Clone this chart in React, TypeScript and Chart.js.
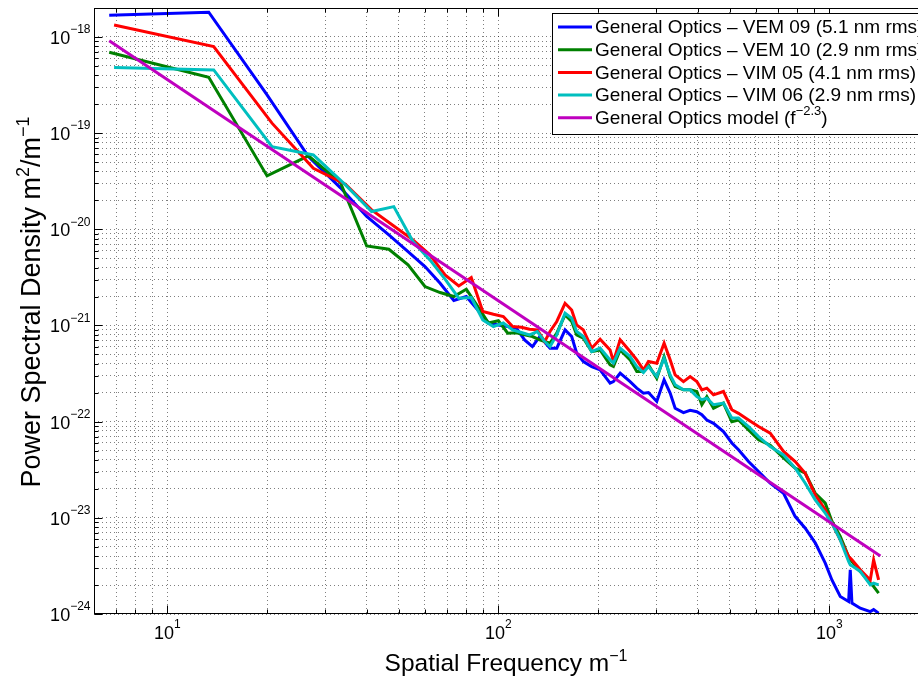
import { useEffect, useRef } from "react";
import { Chart, registerables } from "chart.js";

Chart.register(...registerables);

// ---------- data ----------
// spatial frequencies, m^-1
const FREQ_VEM_LOW = [6.67, 13.33, 20.0, 26.67, 33.33, 40.0, 46.67, 53.33, 60.0, 66.67, 73.33, 80.0, 86.67, 93.33, 100.0, 106.7, 113.3, 120.0, 126.7, 133.3];
const FREQ_VIM_LOW = [6.9, 13.8, 20.7, 27.6, 34.5, 41.4, 48.3, 55.2, 62.1, 69.0, 75.9, 82.8, 89.7, 96.6, 103.5, 110.4, 117.3, 124.2, 131.1, 138.0];
const FREQ_HIGH = [143.2, 150.1, 159.0, 166.5, 172.4, 180.6, 191.4, 202.9, 217.5, 222.6, 233.3, 250.0, 261.9, 274.3, 284.0, 301.0, 316.7, 330.3, 342.0, 362.4, 379.6, 397.7, 411.8, 426.4, 446.7, 478.6, 507.3, 531.5, 569.8, 610.9, 662.6, 727.0, 788.6, 845.5, 906.3, 971.8, 1017.9, 1078.7, 1143.1, 1156.5, 1170.0, 1240.0, 1329.3, 1360.6, 1408.7];

// PSD values, m^2/m^-1
const VEM09_LOW = [1.68e-18, 1.81e-18, 2.5e-19, 5.7e-20, 2.7e-20, 1.36e-20, 8.74e-21, 5.87e-21, 4.1e-21, 2.75e-21, 1.82e-21, 2.0e-21, 1.45e-21, 1.06e-21, 1.01e-21, 9.75e-22, 9.37e-22, 7.08e-22, 6.04e-22, 7.67e-22];
const VEM09_HIGH = [5.81e-22, 5.81e-22, 9.0e-22, 7.67e-22, 5.15e-22, 4.22e-22, 3.74e-22, 3.45e-22, 2.51e-22, 2.61e-22, 3.19e-22, 2.61e-22, 2.23e-22, 1.98e-22, 2.01e-22, 1.62e-22, 2.72e-22, 1.98e-22, 1.38e-22, 1.24e-22, 1.31e-22, 1.27e-22, 1.18e-22, 1.04e-22, 9.6e-23, 7.9e-23, 6.0e-23, 5.1e-23, 3.85e-23, 3.03e-23, 2.29e-23, 1.8e-23, 1.03e-23, 7.8e-24, 5.5e-24, 3.38e-24, 2.26e-24, 1.52e-24, 1.35e-24, 2.88e-24, 1.3e-24, 1.15e-24, 1.06e-24, 1.11e-24, 1.02e-24];

const VEM10_LOW = [6.93e-19, 3.81e-19, 3.59e-20, 5.8e-20, 3.06e-20, 6.71e-21, 6.2e-21, 4.27e-21, 2.54e-21, 2.2e-21, 2.0e-21, 2.38e-21, 1.57e-21, 1.06e-21, 1.12e-21, 8.3e-22, 8.4e-22, 7.98e-22, 7.67e-22, 7.08e-22];
const VEM10_HIGH = [6.55e-22, 8.32e-22, 1.29e-21, 1.1e-21, 7.98e-22, 7.38e-22, 5.36e-22, 5.57e-22, 3.89e-22, 3.74e-22, 5.57e-22, 4.39e-22, 3.32e-22, 3.32e-22, 3.89e-22, 2.83e-22, 4.75e-22, 2.94e-22, 2.32e-22, 2.14e-22, 2.14e-22, 2.06e-22, 1.5e-22, 1.82e-22, 1.38e-22, 1.56e-22, 1.0e-22, 1.04e-22, 8.2e-23, 6.5e-23, 5.7e-23, 4.2e-23, 3.28e-23, 2.91e-23, 1.8e-23, 1.42e-23, 9.2e-24, 6.4e-24, 3.96e-24, 3.66e-24, 3.52e-24, 2.77e-24, 2.09e-24, 1.93e-24, 1.65e-24];

const VIM05_LOW = [1.33e-18, 7.93e-19, 1.27e-19, 4.31e-20, 2.95e-20, 1.59e-20, 1.08e-20, 7.76e-21, 5.42e-21, 3.36e-21, 2.58e-21, 3.15e-21, 1.4e-21, 1.31e-21, 1.24e-21, 9.75e-22, 9.6e-22, 9.15e-22, 9.0e-22, 6.8e-22];
const VIM05_HIGH = [8.65e-22, 1.1e-21, 1.7e-21, 1.45e-21, 1.01e-21, 9.0e-22, 5.81e-22, 7.2e-22, 5.57e-22, 4.22e-22, 7.08e-22, 5.36e-22, 4.39e-22, 3.45e-22, 4.22e-22, 4.05e-22, 6.55e-22, 4.39e-22, 3.06e-22, 2.61e-22, 2.94e-22, 2.61e-22, 2.14e-22, 2.23e-22, 1.9e-22, 2.06e-22, 1.33e-22, 1.22e-22, 1.04e-22, 8.9e-23, 7.6e-23, 4.9e-23, 3.85e-23, 2.91e-23, 1.73e-23, 1.21e-23, 8.8e-24, 5.9e-24, 3.96e-24, 3.81e-24, 3.66e-24, 2.88e-24, 2.26e-24, 3.66e-24, 2.26e-24];

const VIM06_LOW = [4.8e-19, 4.54e-19, 7.24e-20, 5.93e-20, 2.9e-20, 1.53e-20, 1.72e-20, 7.45e-21, 4.81e-21, 3.03e-21, 1.92e-21, 1.95e-21, 1.14e-21, 9.75e-22, 1.06e-21, 9.0e-22, 8.45e-22, 7.98e-22, 8.65e-22, 6.8e-22];
const VIM06_HIGH = [6.04e-22, 7.98e-22, 1.34e-21, 1.19e-21, 8.65e-22, 7.67e-22, 5.36e-22, 5.81e-22, 4.39e-22, 4.05e-22, 5.81e-22, 4.75e-22, 3.74e-22, 3.24e-22, 3.74e-22, 2.94e-22, 4.57e-22, 3.06e-22, 2.42e-22, 2.14e-22, 2.14e-22, 1.82e-22, 1.69e-22, 1.75e-22, 1.5e-22, 1.56e-22, 1.09e-22, 1.09e-22, 8.9e-23, 7.0e-23, 5.5e-23, 4.5e-23, 3.28e-23, 2.29e-23, 1.54e-23, 1.12e-23, 8.8e-24, 5.9e-24, 3.52e-24, 3.24e-24, 3.17e-24, 2.77e-24, 2.01e-24, 2.09e-24, 2.01e-24];

const MODEL_FREQ = [6.67, 1426];
const MODEL_PSD = [9.15e-19, 4.0e-24];

const SERIES_LABELS = [
  "General Optics \u2013 VEM 09 (5.1 nm rms)",
  "General Optics \u2013 VEM 10 (2.9 nm rms)",
  "General Optics \u2013 VIM 05 (4.1 nm rms)",
  "General Optics \u2013 VIM 06 (2.9 nm rms)",
];
const MODEL_LABEL = "General Optics model (f";
const MODEL_EXP = "\u22122.3";
const SERIES_COLORS = ["#0000ff", "#008000", "#ff0000", "#00bfbf", "#bf00bf"];

const X_TICK_EXPONENTS = [1, 2, 3];
const Y_TICK_EXPONENTS = [-24, -23, -22, -21, -20, -19, -18];
const X_MIN = 6;
const X_MAX = 2000;
const Y_MIN = 1e-24;
const Y_MAX = 2e-18;
const X_TITLE = "Spatial Frequency m";
const Y_TITLE_A = "Power Spectral Density m";
const Y_TITLE_B = "/m";

// ---------- helpers ----------
const FONT = '"Liberation Sans", Arial, Helvetica, sans-serif';

function logTicks(min: number, max: number): number[] {
  const out: number[] = [];
  const e0 = Math.floor(Math.log10(min));
  const e1 = Math.ceil(Math.log10(max));
  for (let e = e0; e <= e1; e++) {
    for (let m = 1; m <= 9; m++) {
      const v = m * Math.pow(10, e);
      if (v >= min * 0.9999 && v <= max * 1.0001) out.push(v);
    }
  }
  return out;
}

const isPow10 = (v: number) => {
  const l = Math.log10(v);
  return Math.abs(l - Math.round(l)) < 1e-6;
};

type Part = { t: string; sup?: boolean };

function partsWidth(ctx: CanvasRenderingContext2D, parts: Part[], size: number, supSize: number) {
  let w = 0;
  for (const p of parts) {
    ctx.font = `${p.sup ? supSize : size}px ${FONT}`;
    w += ctx.measureText(p.t).width;
  }
  return w;
}

function drawParts(
  ctx: CanvasRenderingContext2D,
  parts: Part[],
  x: number,
  y: number,
  size: number,
  supSize: number,
  raise: number,
  align: "left" | "right" | "center"
) {
  const w = partsWidth(ctx, parts, size, supSize);
  let cx = align === "left" ? x : align === "right" ? x - w : x - w / 2;
  ctx.textAlign = "left";
  for (const p of parts) {
    ctx.font = `${p.sup ? supSize : size}px ${FONT}`;
    ctx.fillText(p.t, cx, p.sup ? y - raise : y);
    cx += ctx.measureText(p.t).width;
  }
}

const decorPlugin = {
  id: "matlabDecor",
  afterDatasetsDraw(chart: any) {
    const { ctx, chartArea: a, scales } = chart;
    const xs = scales.x;
    const ys = scales.y;
    ctx.save();
    ctx.setLineDash([]);
    ctx.strokeStyle = "#000";
    ctx.lineWidth = 1;
    const L = Math.round(a.left) + 0.5;
    const T = Math.round(a.top) + 0.5;
    const R = Math.round(a.right) - 0.5;
    const B = Math.round(a.bottom) - 0.5;
    ctx.strokeRect(L, T, R - L, B - T);

    // inward tick marks on all sides
    ctx.beginPath();
    for (const t of xs.ticks) {
      const px = Math.round(xs.getPixelForValue(t.value)) + 0.5;
      const len = isPow10(t.value) ? 8 : 4;
      ctx.moveTo(px, B);
      ctx.lineTo(px, B - len);
      ctx.moveTo(px, T);
      ctx.lineTo(px, T + len);
    }
    for (const t of ys.ticks) {
      const py = Math.round(ys.getPixelForValue(t.value)) + 0.5;
      const len = isPow10(t.value) ? 8 : 4;
      ctx.moveTo(L, py);
      ctx.lineTo(L + len, py);
      ctx.moveTo(R, py);
      ctx.lineTo(R - len, py);
    }
    ctx.stroke();

    // tick labels
    ctx.fillStyle = "#000";
    ctx.textBaseline = "middle";
    for (const e of X_TICK_EXPONENTS) {
      const px = xs.getPixelForValue(Math.pow(10, e));
      drawParts(ctx, [{ t: "10" }, { t: String(e), sup: true }], px, B + 21, 18, 12, 10, "center");
    }
    for (const e of Y_TICK_EXPONENTS) {
      const py = ys.getPixelForValue(Math.pow(10, e));
      drawParts(ctx, [{ t: "10" }, { t: "\u2212" + String(-e), sup: true }], L - 4, py + 2, 18, 12, 9, "right");
    }

    // axis titles
    ctx.textBaseline = "alphabetic";
    drawParts(ctx, [{ t: X_TITLE }, { t: "\u22121", sup: true }], 506, 671, 24.5, 16, 10, "center");
    ctx.save();
    ctx.translate(40, 302);
    ctx.rotate(-Math.PI / 2);
    drawParts(
      ctx,
      [{ t: Y_TITLE_A }, { t: "2", sup: true }, { t: Y_TITLE_B }, { t: "\u22121", sup: true }],
      0,
      0,
      27,
      18,
      11,
      "center"
    );
    ctx.restore();

    // legend box
    const lx = 552.5;
    const ly = 13.5;
    const lw = R - 5 - lx;
    const rowH = 22.7;
    const lh = 121;
    ctx.fillStyle = "#fff";
    ctx.fillRect(lx, ly, lw, lh);
    ctx.strokeStyle = "#000";
    ctx.lineWidth = 1;
    ctx.strokeRect(lx, ly, lw, lh);
    const rows: Part[][] = [
      ...SERIES_LABELS.map((s) => [{ t: s }]),
      [{ t: MODEL_LABEL }, { t: MODEL_EXP, sup: true }, { t: ")" }],
    ];
    ctx.textBaseline = "middle";
    rows.forEach((parts, i) => {
      const cy = 27 + i * rowH;
      ctx.strokeStyle = SERIES_COLORS[i];
      ctx.lineWidth = 3;
      ctx.beginPath();
      ctx.moveTo(558, cy);
      ctx.lineTo(592, cy);
      ctx.stroke();
      ctx.fillStyle = "#000";
      drawParts(ctx, parts, 595, cy + 1, 19, 13, 7, "left");
    });
    ctx.restore();
  },
};

const pts = (xs: number[], ys: number[]) => xs.map((x, i) => ({ x, y: ys[i] }));

export default function App() {
  const ref = useRef<HTMLCanvasElement | null>(null);

  useEffect(() => {
    if (!ref.current) return;
    const xTicks = logTicks(X_MIN, X_MAX);
    const yTicks = logTicks(Y_MIN, Y_MAX);
    const common = { borderWidth: 3, pointRadius: 0, tension: 0, fill: false };
    const chart = new Chart(ref.current, {
      type: "line",
      data: {
        datasets: [
          { ...common, label: SERIES_LABELS[0], borderColor: SERIES_COLORS[0], order: 5,
            data: pts([...FREQ_VEM_LOW, ...FREQ_HIGH], [...VEM09_LOW, ...VEM09_HIGH]) },
          { ...common, label: SERIES_LABELS[1], borderColor: SERIES_COLORS[1], order: 4,
            data: pts([...FREQ_VEM_LOW, ...FREQ_HIGH], [...VEM10_LOW, ...VEM10_HIGH]) },
          { ...common, label: SERIES_LABELS[2], borderColor: SERIES_COLORS[2], order: 3,
            data: pts([...FREQ_VIM_LOW, ...FREQ_HIGH], [...VIM05_LOW, ...VIM05_HIGH]) },
          { ...common, label: SERIES_LABELS[3], borderColor: SERIES_COLORS[3], order: 2,
            data: pts([...FREQ_VIM_LOW, ...FREQ_HIGH], [...VIM06_LOW, ...VIM06_HIGH]) },
          { ...common, label: MODEL_LABEL + MODEL_EXP + ")", borderColor: SERIES_COLORS[4], order: 1,
            data: pts(MODEL_FREQ, MODEL_PSD) },
        ],
      },
      options: {
        animation: false,
        responsive: true,
        maintainAspectRatio: false,
        devicePixelRatio: 1,
        layout: { padding: { left: 94, top: 8, right: 11, bottom: 67 } },
        plugins: { legend: { display: false }, tooltip: { enabled: false }, title: { display: false } },
        events: [],
        scales: {
          x: {
            type: "logarithmic",
            min: X_MIN,
            max: X_MAX,
            afterBuildTicks: (s: any) => { s.ticks = xTicks.map((v) => ({ value: v })); },
            afterFit: (s: any) => { s.height = 0; },
            ticks: { display: false },
            title: { display: false },
            grid: { color: "rgba(0,0,0,0.5)", lineWidth: 1, drawTicks: false },
            border: { display: false, dash: [1, 3] },
          },
          y: {
            type: "logarithmic",
            min: Y_MIN,
            max: Y_MAX,
            afterBuildTicks: (s: any) => { s.ticks = yTicks.map((v) => ({ value: v })); },
            afterFit: (s: any) => { s.width = 0; },
            ticks: { display: false },
            title: { display: false },
            grid: { color: "rgba(0,0,0,0.5)", lineWidth: 1, drawTicks: false },
            border: { display: false, dash: [1, 3] },
          },
        },
      } as any,
      plugins: [decorPlugin],
    });
    return () => chart.destroy();
  }, []);

  return (
    <div style={{ position: "fixed", left: 0, top: 0, width: 918, height: 681, overflow: "hidden", background: "#fff" }}>
      <div style={{ position: "relative", width: 940, height: 681 }}>
        <canvas ref={ref} />
      </div>
    </div>
  );
}
